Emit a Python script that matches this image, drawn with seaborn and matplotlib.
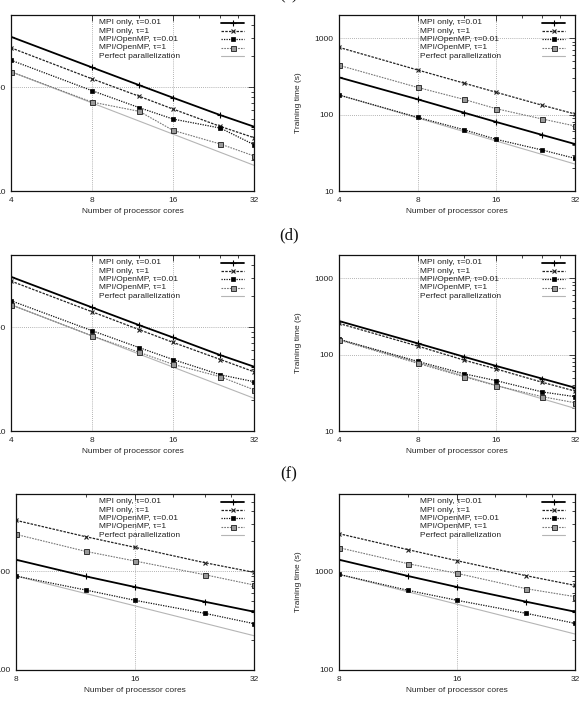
import matplotlib
matplotlib.use("Agg")
import matplotlib.pyplot as plt
from matplotlib.ticker import FixedLocator, LogLocator, NullFormatter
import seaborn as sns

# x values (number of cores)
cores_4_32 = [4, 8, 12, 16, 24, 32]
cores_8_32 = [8, 12, 16, 24, 32]
ideal_x_4 = [4, 32]
ideal_x_8 = [8, 32]

series_labels = ["MPI only, τ=0.01", "MPI only, τ=1", "MPI/OpenMP, τ=0.01",
                 "MPI/OpenMP, τ=1", "Perfect parallelization"]

# row 1, left
r1l_mpi001 = [308, 156, 105, 79.5, 54, 41.8]
r1l_mpi1 = [241, 121, 82, 61.8, 42, 32.7]
r1l_omp001 = [183, 93, 63.7, 49.5, 40.5, 28]
r1l_omp1 = [141.6, 72.2, 58.7, 38.5, 28.4, 21.8]
r1l_ideal = [141.6, 17.7]

# row 1, right
r1r_mpi001 = [306, 158, 106, 79.8, 54, 41.1]
r1r_mpi1 = [755, 382, 258, 195, 132, 101.6]
r1r_omp001 = [180, 91.8, 63.4, 47.3, 34.3, 26.7]
r1r_omp1 = [440, 226, 158, 119, 87.3, 70.8]
r1r_ideal = [180, 22.5]

# row 2, left
r2l_mpi001 = [308, 156, 105, 80, 54, 41.8]
r2l_mpi1 = [280, 141.6, 95, 71.7, 49, 37.3]
r2l_omp001 = [181, 93, 63.7, 49, 34.9, 29.9]
r2l_omp1 = [165.4, 83, 57.4, 44, 33.4, 25]
r2l_ideal = [165.4, 20.7]

# row 2, right
r2r_mpi001 = [274, 140, 93.7, 70.8, 48.3, 36.8]
r2r_mpi1 = [255, 129, 84.7, 64.6, 43.3, 33.3]
r2r_omp001 = [158, 81.4, 56.1, 45.5, 32.4, 28.1]
r2r_omp1 = [155, 76.7, 51.3, 39.1, 28.1, 23.4]
r2r_ideal = [158, 19.75]

# row 3, left
r3l_mpi001 = [1301, 884, 689, 490, 388]
r3l_mpi1 = [3250, 2223, 1734, 1214, 970]
r3l_omp001 = [890, 643, 506, 374, 294]
r3l_omp1 = [2346, 1580, 1262, 918, 722]
r3l_ideal = [890, 222]

# row 3, right
r3r_mpi001 = [1301, 890, 689, 490, 388]
r3r_mpi1 = [2384, 1643, 1271, 897, 716]
r3r_omp001 = [925, 638, 506, 374, 296]
r3r_omp1 = [1721, 1186, 947, 663, 551]
r3r_ideal = [925, 231]

# gnuplot-like monochrome line styles
styles = [
    dict(color="#000000", linestyle="-", linewidth=1.3, marker="+", markersize=4,
         markeredgewidth=0.8, markeredgecolor="#000000", markerfacecolor="#000000"),
    dict(color="#222222", linestyle=(0, (2, 1)), linewidth=0.9, marker="x", markersize=2.6,
         markeredgewidth=0.8, markeredgecolor="#222222", markerfacecolor="#222222"),
    dict(color="#111111", linestyle=(0, (1, 1)), linewidth=0.9, marker="s", markersize=2.3,
         markeredgewidth=0.5, markeredgecolor="#000000", markerfacecolor="#000000"),
    dict(color="#777777", linestyle=(0, (1.5, 1)), linewidth=0.8, marker="s", markersize=3.6,
         markeredgewidth=0.7, markeredgecolor="#333333", markerfacecolor="#9a9a9a"),
    dict(color="#b5b5b5", linestyle="-", linewidth=0.8),
]

sns.set_style("white")
plt.rcParams["font.family"] = ["Liberation Sans", "DejaVu Sans"]
plt.rcParams["axes.linewidth"] = 0.9
plt.rcParams["text.color"] = "#222222"

W, H = 587, 704
fig = plt.figure(figsize=(W / 100, H / 100), dpi=100)


def add_axes_px(x0, y0, x1, y1):
    return fig.add_axes([x0 / W, 1 - y1 / H, (x1 - x0) / W, (y1 - y0) / H])


def draw_key(ax, width_px, height_px):
    for i, (lab, st) in enumerate(zip(series_labels, styles)):
        y = 1 - (7.7 + 8.35 * i) / height_px
        ax.text(1 - 155 / width_px, y, lab, transform=ax.transAxes, fontsize=6,
                ha="left", va="center")
        x0, x1 = 1 - 33 / width_px, 1 - 10 / width_px
        line_st = {k: v for k, v in st.items() if not k.startswith("marker")}
        ax.plot([x0, x1], [y, y], transform=ax.transAxes, clip_on=False, **line_st)
        if "marker" in st:
            mk = {k: v for k, v in st.items() if k.startswith("marker")}
            ax.plot([(x0 + x1) / 2], [y], transform=ax.transAxes, linestyle="none",
                    clip_on=False, **mk)


def draw_panel(box, cores, series, ideal_x, ideal, xlim, ylim, yticks, ylabel):
    ax = add_axes_px(*box)
    sns.lineplot(x=ideal_x, y=ideal, ax=ax, errorbar=None, **styles[4])
    for vals, st in zip(series, styles[:4]):
        sns.lineplot(x=cores, y=vals, ax=ax, errorbar=None, **st)

    ax.set_xscale("log", base=2)
    ax.set_yscale("log")
    xt = [t for t in [4, 8, 16, 32] if xlim[0] <= t <= xlim[1]]
    ax.set_xticks(xt, labels=[str(t) for t in xt])
    ax.xaxis.set_minor_locator(FixedLocator([12, 20, 24, 28]))
    ax.xaxis.set_minor_formatter(NullFormatter())
    ax.set_yticks(yticks, labels=[str(t) for t in yticks])
    ax.yaxis.set_minor_locator(LogLocator(base=10, subs=range(2, 10)))
    ax.yaxis.set_minor_formatter(NullFormatter())
    ax.set_xlim(*xlim)
    ax.set_ylim(*ylim)

    ax.tick_params(which="both", direction="in", top=True, right=True,
                   labelsize=6, pad=4, width=0.6, colors="#222222")
    ax.tick_params(which="major", length=4)
    ax.tick_params(which="minor", length=2)
    ax.grid(True, which="major", color="#9a9a9a", linestyle=(0, (1, 1.5)), linewidth=0.6)
    for sp in ax.spines.values():
        sp.set_color("#111111")

    width_px = box[2] - box[0]
    height_px = box[3] - box[1]
    ax.set_xlabel("Number of processor cores", fontsize=6)
    ax.xaxis.set_label_coords(0.5, -17 / height_px)
    if ylabel:
        ax.set_ylabel("Training time (s)", fontsize=6)
        ax.yaxis.set_label_coords(-37 / width_px, 0.5)
    else:
        ax.set_ylabel("")
    draw_key(ax, width_px, height_px)
    return ax


draw_panel((11, 15, 254, 191), cores_4_32, [r1l_mpi001, r1l_mpi1, r1l_omp001, r1l_omp1],
           ideal_x_4, r1l_ideal, (4, 32), (10, 500), [10, 100], False)
draw_panel((339, 15, 575, 191), cores_4_32, [r1r_mpi001, r1r_mpi1, r1r_omp001, r1r_omp1],
           ideal_x_4, r1r_ideal, (4, 32), (10, 2000), [10, 100, 1000], True)
draw_panel((11, 255, 254, 431), cores_4_32, [r2l_mpi001, r2l_mpi1, r2l_omp001, r2l_omp1],
           ideal_x_4, r2l_ideal, (4, 32), (10, 500), [10, 100], False)
draw_panel((339, 255, 575, 431), cores_4_32, [r2r_mpi001, r2r_mpi1, r2r_omp001, r2r_omp1],
           ideal_x_4, r2r_ideal, (4, 32), (10, 2000), [10, 100, 1000], True)
draw_panel((16, 494, 254, 670), cores_8_32, [r3l_mpi001, r3l_mpi1, r3l_omp001, r3l_omp1],
           ideal_x_8, r3l_ideal, (8, 32), (100, 6000), [100, 1000], False)
draw_panel((339, 494, 575, 670), cores_8_32, [r3r_mpi001, r3r_mpi1, r3r_omp001, r3r_omp1],
           ideal_x_8, r3r_ideal, (8, 32), (100, 6000), [100, 1000], True)

# sub-figure captions (serif, like the paper)
for lab, ypx in [("(c)", -5), ("(d)", 235), ("(f)", 474)]:
    fig.text(289 / W, 1 - ypx / H, lab, ha="center", va="center", fontsize=12,
             family=["Liberation Serif", "DejaVu Serif"], color="#111111")

fig.savefig("out.png", dpi=100)
